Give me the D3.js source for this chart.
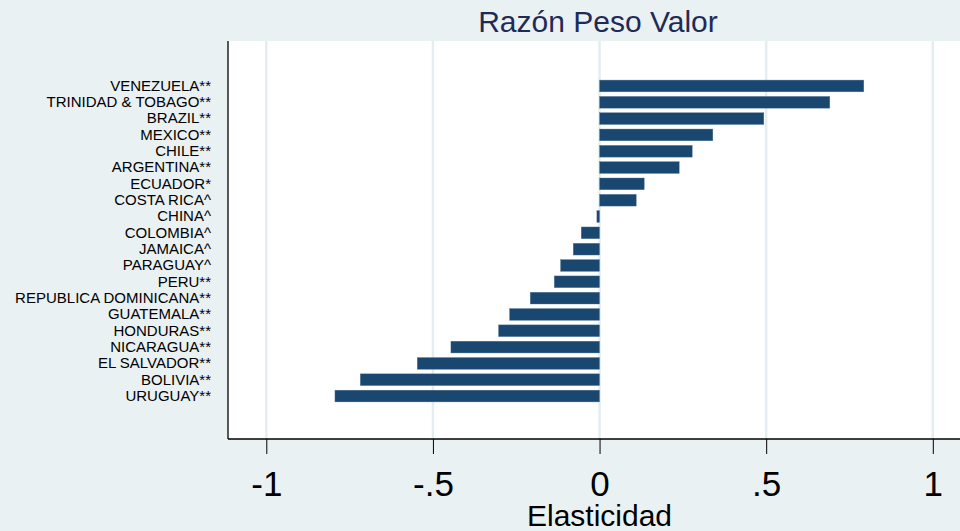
<!DOCTYPE html>
<html>
<head>
<meta charset="utf-8">
<script src="https://cdn.jsdelivr.net/npm/d3@7"></script>
<style>
  html, body { margin: 0; padding: 0; background: #eaf1f3; }
  svg { display: block; }
  text { font-family: "Liberation Sans", Arial, sans-serif; }
</style>
</head>
<body>
<svg id="chart" width="960" height="531"></svg>
<script>
const countries = [
  "VENEZUELA**", "TRINIDAD & TOBAGO**", "BRAZIL**", "MEXICO**", "CHILE**",
  "ARGENTINA**", "ECUADOR*", "COSTA RICA^", "CHINA^", "COLOMBIA^",
  "JAMAICA^", "PARAGUAY^", "PERU**", "REPUBLICA DOMINICANA**", "GUATEMALA**",
  "HONDURAS**", "NICARAGUA**", "EL SALVADOR**", "BOLIVIA**", "URUGUAY**"
];
const elasticities = [
  0.793, 0.691, 0.493, 0.340, 0.278,
  0.239, 0.134, 0.110, -0.008, -0.055,
  -0.079, -0.117, -0.136, -0.208, -0.270,
  -0.303, -0.446, -0.547, -0.718, -0.794
];
const xTicks = [-1, -0.5, 0, 0.5, 1];
const xTickLabels = ["-1", "-.5", "0", ".5", "1"];
const chartTitle = "Razón Peso Valor";
const xTitle = "Elasticidad";

const data = countries.map((c, i) => ({ name: c, value: elasticities[i] }));

const W = 960, H = 531;
const plot = { left: 228, right: 960, top: 41, bottom: 439 };

const svg = d3.select("#chart");

// background
svg.append("rect").attr("x", 0).attr("y", 0).attr("width", W).attr("height", H).attr("fill", "#eaf1f3");
// plot region
svg.append("rect")
  .attr("x", plot.left).attr("y", plot.top)
  .attr("width", plot.right - plot.left).attr("height", plot.bottom - plot.top)
  .attr("fill", "#ffffff");

const x = d3.scaleLinear().domain([-1, 1]).range([266.3, 932.8]);
const y = d3.scaleBand()
  .domain(countries)
  .range([77.8, 404.2])
  .paddingInner(0.28)
  .paddingOuter(0.14);

// gridlines
svg.append("g").selectAll("line")
  .data(xTicks)
  .join("line")
  .attr("x1", d => x(d)).attr("x2", d => x(d))
  .attr("y1", plot.top).attr("y2", plot.bottom)
  .attr("stroke", "#e4eef1")
  .attr("stroke-width", 2.5);

// bars
svg.append("g").selectAll("rect")
  .data(data)
  .join("rect")
  .attr("x", d => x(Math.min(0, d.value)))
  .attr("width", d => Math.abs(x(d.value) - x(0)))
  .attr("y", d => y(d.name))
  .attr("height", y.bandwidth())
  .attr("fill", "#1a476f")
  .attr("stroke", "#5a7a98")
  .attr("stroke-width", 0.4);

// x axis
const xAxis = d3.axisBottom(x)
  .tickValues(xTicks)
  .tickFormat((d, i) => xTickLabels[i])
  .tickSize(15)
  .tickSizeOuter(0)
  .tickPadding(17);

const gx = svg.append("g")
  .attr("transform", `translate(0,${plot.bottom})`)
  .call(xAxis);
gx.select(".domain").remove();
gx.selectAll(".tick line").attr("stroke", "#000").attr("stroke-width", 1);
gx.selectAll(".tick text")
  .attr("fill", "#000")
  .style("font-size", "35px")
  .style("font-family", "'Liberation Sans', Arial, sans-serif");

// axis lines
svg.append("line")
  .attr("x1", plot.left).attr("x2", plot.right)
  .attr("y1", plot.bottom).attr("y2", plot.bottom)
  .attr("stroke", "#000").attr("stroke-width", 1.3);
svg.append("line")
  .attr("x1", plot.left).attr("x2", plot.left)
  .attr("y1", plot.top).attr("y2", plot.bottom)
  .attr("stroke", "#000").attr("stroke-width", 1.3);

// y labels
const yAxis = d3.axisLeft(y).tickSize(0).tickPadding(17);
const gy = svg.append("g")
  .attr("transform", `translate(${plot.left},0)`)
  .call(yAxis);
gy.select(".domain").remove();
gy.selectAll(".tick text")
  .attr("fill", "#000")
  .style("font-size", "15px")
  .style("font-family", "'Liberation Sans', Arial, sans-serif");

// title
svg.append("text")
  .attr("x", 598).attr("y", 31.5)
  .attr("text-anchor", "middle")
  .attr("fill", "#1e2b57")
  .style("font-size", "30px")
  .text(chartTitle);

// x axis title
svg.append("text")
  .attr("x", 599.5).attr("y", 525.5)
  .attr("text-anchor", "middle")
  .attr("fill", "#000")
  .style("font-size", "30px")
  .text(xTitle);
</script>
</body>
</html>
